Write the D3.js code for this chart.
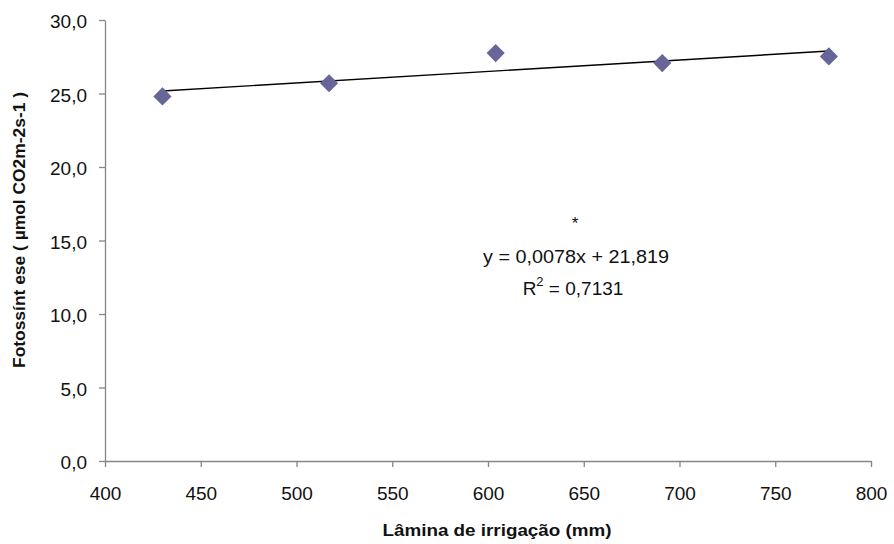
<!DOCTYPE html>
<html>
<head>
<meta charset="utf-8">
<script src="https://cdn.jsdelivr.net/npm/d3@7"></script>
<style>
  body { margin: 0; background: #fff; }
  svg { display: block; font-family: "Liberation Sans", Arial, sans-serif; }
</style>
</head>
<body>
<svg id="chart" width="894" height="544"></svg>
<script>
// ---- data ----
const laminas = [430, 517, 604, 691, 778];
const fotossintese = [24.8, 25.7, 27.75, 27.07, 27.52];
const xTicks = [400, 450, 500, 550, 600, 650, 700, 750, 800];
const yTicks = [0, 5, 10, 15, 20, 25, 30];
const trendSlope = 0.0078;
const trendIntercept = 21.819;
const equationText = "y = 0,0078x + 21,819";
const r2Value = "0,7131";
const xTitle = "Lâmina de irrigação (mm)";
const yTitle = "Fotossínt ese ( µmol CO2m-2s-1 )";

(function () {
// ---- layout ----
const svg = d3.select("#chart");
const mLeft = 105, mRight = 871, mTop = 20, mBottom = 461;
const x = d3.scaleLinear().domain([400, 800]).range([mLeft, mRight]);
const y = d3.scaleLinear().domain([0, 30]).range([mBottom, mTop]);
const axisColor = "#868686";
const fmt1 = v => d3.format(".1f")(v).replace(".", ",");

// x axis
const gx = svg.append("g").attr("transform", `translate(0,${mBottom})`)
  .call(d3.axisBottom(x).tickValues(xTicks).tickSize(6).tickSizeOuter(0).tickFormat(d3.format("d")));
gx.select(".domain").attr("stroke", axisColor).attr("stroke-width", 1.3);
gx.selectAll(".tick line").attr("stroke", axisColor).attr("stroke-width", 1.3);
gx.selectAll(".tick text").attr("y", 39).attr("dy", 0)
  .attr("font-size", 19).attr("fill", "#111").attr("font-family", "Liberation Sans, Arial, sans-serif");

// y axis
const gy = svg.append("g").attr("transform", `translate(${mLeft},0)`)
  .call(d3.axisLeft(y).tickValues(yTicks).tickSize(6).tickSizeOuter(0).tickFormat(fmt1));
gy.select(".domain").attr("stroke", axisColor).attr("stroke-width", 1.3);
gy.selectAll(".tick line").attr("stroke", axisColor).attr("stroke-width", 1.3);
gy.selectAll(".tick text").attr("x", -18).attr("dy", "0.42em")
  .attr("font-size", 19).attr("fill", "#111").attr("font-family", "Liberation Sans, Arial, sans-serif");

// trend line
const xMin = d3.min(laminas), xMax = d3.max(laminas);
svg.append("line")
  .attr("x1", x(xMin)).attr("y1", y(trendSlope * xMin + trendIntercept))
  .attr("x2", x(xMax)).attr("y2", y(trendSlope * xMax + trendIntercept))
  .attr("stroke", "#000").attr("stroke-width", 1.4);

// points (diamonds)
const sym = d3.symbol(d3.symbolSquare, 165);
svg.append("g").selectAll("path")
  .data(laminas.map((l, i) => ({ l, v: fotossintese[i] })))
  .join("path")
  .attr("d", sym)
  .attr("transform", d => `translate(${x(d.l)},${y(d.v)}) rotate(45)`)
  .attr("fill", "#666699");

// equation annotation
svg.append("text").attr("x", 575).attr("y", 229).attr("text-anchor", "middle")
  .attr("font-size", 17).attr("fill", "#111").text("*");
svg.append("text").attr("x", 576).attr("y", 263).attr("text-anchor", "middle")
  .attr("font-size", 19).attr("fill", "#111")
  .attr("textLength", 186).attr("lengthAdjust", "spacingAndGlyphs")
  .text(equationText);
const r2 = svg.append("text").attr("x", 573).attr("y", 295).attr("text-anchor", "middle")
  .attr("font-size", 19).attr("fill", "#111");
r2.append("tspan").text("R");
r2.append("tspan").attr("font-size", 13).attr("dx", 0).attr("dy", -9).text("2");
r2.append("tspan").attr("dy", 9).text(" = " + r2Value);

// axis titles
svg.append("text").attr("x", 497).attr("y", 536).attr("text-anchor", "middle")
  .attr("font-size", 16).attr("font-weight", "bold").attr("fill", "#111")
  .attr("textLength", 229).attr("lengthAdjust", "spacingAndGlyphs")
  .text(xTitle);
svg.append("text").attr("transform", "translate(25,230) rotate(-90)")
  .attr("text-anchor", "middle")
  .attr("font-size", 16).attr("font-weight", "bold").attr("fill", "#111")
  .attr("textLength", 276).attr("lengthAdjust", "spacingAndGlyphs")
  .text(yTitle);
})();
</script>
</body>
</html>
